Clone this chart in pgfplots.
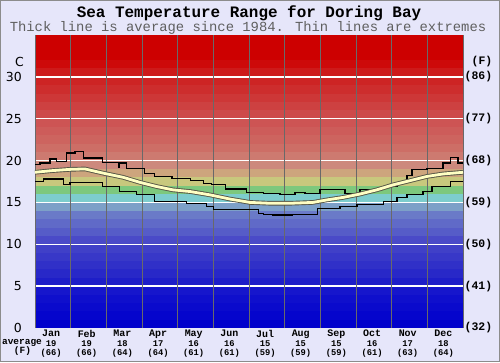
\documentclass[border=0pt]{standalone}
\usepackage{fontspec}
\usepackage{pgfplots}
\pgfplotsset{compat=1.18}
\setmainfont{DejaVu Sans}
\newfontfamily\mono{Liberation Mono}
\newfontfamily\dv{DejaVu Sans}
\definecolor{lav}{RGB}{230,230,250}
\definecolor{frame}{RGB}{140,140,140}
\definecolor{vgrid}{RGB}{105,105,105}
\definecolor{avgin}{RGB}{255,255,195}
\definecolor{avgout}{RGB}{85,85,70}
\definecolor{subgray}{RGB}{95,95,95}
\begin{document}
\begin{tikzpicture}[x=1bp,y=1bp]
\path[use as bounding box,fill=lav,draw=frame,line width=1bp] (0.5,0.5) rectangle (499.5,361.5);
\node[font=\mono\bfseries\fontsize{16}{16}\selectfont] at (249,349) {Sea Temperature Range for Doring Bay};
\node[font=\mono\fontsize{13.9}{14}\selectfont,text=subgray] at (248,334) {Thick line is average since 1984. Thin lines are extremes};
\node[font=\mono\bfseries\fontsize{9.5}{9.5}\selectfont] at (22,19) {average};
\node[font=\mono\bfseries\fontsize{9.5}{9.5}\selectfont] at (22.5,10.5) {(F)};
\begin{axis}[
  at={(35bp,34bp)}, anchor=south west,
  scale only axis, width=428bp, height=293bp,
  xmin=0, xmax=12, ymin=0, ymax=35,
  clip=false,
  axis line style={draw=none},
  major tick length=0pt, minor tick length=0pt,
  ytick={0,5,10,15,20,25,30},
  yticklabel style={anchor=east, inner sep=0pt, xshift=-13bp, font=\dv\fontsize{12.5}{13}\selectfont},
  /pgf/number format/assume math mode=true,
  xtick={0.45,1.45,2.45,3.45,4.45,5.45,6.45,7.45,8.45,9.45,10.45,11.45},
  xticklabel style={align=center, anchor=north, inner sep=0pt, yshift=-2bp, font=\mono\bfseries\fontsize{10}{9.3}\selectfont},
  xticklabels={
    Jan\\{\fontsize{8.8}{9}\selectfont 19}\\{\fontsize{8.8}{9}\selectfont (66)},
    Feb\\{\fontsize{8.8}{9}\selectfont 19}\\{\fontsize{8.8}{9}\selectfont (66)},
    Mar\\{\fontsize{8.8}{9}\selectfont 18}\\{\fontsize{8.8}{9}\selectfont (64)},
    Apr\\{\fontsize{8.8}{9}\selectfont 17}\\{\fontsize{8.8}{9}\selectfont (64)},
    May\\{\fontsize{8.8}{9}\selectfont 16}\\{\fontsize{8.8}{9}\selectfont (61)},
    Jun\\{\fontsize{8.8}{9}\selectfont 16}\\{\fontsize{8.8}{9}\selectfont (61)},
    Jul\\{\fontsize{8.8}{9}\selectfont 15}\\{\fontsize{8.8}{9}\selectfont (59)},
    Aug\\{\fontsize{8.8}{9}\selectfont 15}\\{\fontsize{8.8}{9}\selectfont (59)},
    Sep\\{\fontsize{8.8}{9}\selectfont 15}\\{\fontsize{8.8}{9}\selectfont (59)},
    Oct\\{\fontsize{8.8}{9}\selectfont 16}\\{\fontsize{8.8}{9}\selectfont (61)},
    Nov\\{\fontsize{8.8}{9}\selectfont 17}\\{\fontsize{8.8}{9}\selectfont (63)},
    Dec\\{\fontsize{8.8}{9}\selectfont 18}\\{\fontsize{8.8}{9}\selectfont (64)}},
]
% background temperature bands
\foreach \k/\r/\g/\b in {0/0/0/204,1/5/5/204,2/10/10/204,3/15/15/204,4/22/22/204,5/30/30/200,6/40/40/200,7/48/48/200,8/56/56/200,9/64/64/200,10/74/74/200,11/86/92/200,12/96/106/200,13/106/122/200,14/125/160/200,15/125/205/205,16/125/200/125,17/200/200/125,18/205/165/125,19/205/137/125,20/205/122/112,21/205/110/102,22/205/100/95,23/205/92/90,24/205/84/84,25/205/74/74,26/205/65/65,27/205/55/55,28/205/45/45,29/205/36/36,30/205/26/26,31/205/10/10,32/205/0/0,33/205/0/0,34/205/0/0} {
  \pgfmathtruncatemacro\kk{\k+1}
  \edef\temp{\noexpand\fill[color={rgb,255:red,\r;green,\g;blue,\b}] (axis cs:0,\k) rectangle (axis cs:12,\kk);}
  \temp
}
% grid
\foreach \t in {5,10,15,20,25,30} {
  \edef\temp{\noexpand\draw[white,line width=1.5bp] (axis cs:0,\t) -- (axis cs:12,\t);}
  \temp
}
\foreach \m in {0,1,2,3,4,5,6,7,8,9,10,11,12} {
  \edef\temp{\noexpand\draw[vgrid,line width=1bp] (axis cs:\m,0) -- (axis cs:\m,35);}
  \temp
}
% maximum
\addplot[const plot, black, line width=1.2bp] coordinates {
(0,19.5) (0.14,19.7) (0.42,20.2) (0.61,19.9) (0.89,20.9) (1.12,21.1) (1.35,20.3)
(1.90,19.8) (2.33,19.2) (2.38,19.7) (2.57,19.1) (3.08,18.5) (3.36,18.1) (3.84,17.9)
(4.35,17.6) (4.72,17.3) (4.95,17.1) (5.33,16.6) (5.94,16.2) (6.40,16.1) (6.87,15.9)
(7.29,16.2) (7.57,16.1) (7.99,16.5) (8.69,16.1) (9.11,16.5) (9.76,16.9) (10.15,17.4)
(10.43,18.2) (10.57,18.9) (10.99,19.1) (11.44,19.7) (11.64,20.4) (11.86,19.7) (12,19.7)};
% minimum
\addplot[const plot, black, line width=1.2bp] coordinates {
(0,17.5) (0.23,17.8) (0.79,17.1) (0.98,17.4) (1.90,16.9) (2.38,16.3) (2.85,15.9)
(3.36,15.1) (4.25,14.9) (4.81,14.5) (5.0,14.2) (6.26,13.7) (6.40,13.6) (6.67,13.5)
(7.23,13.6) (7.91,14.3) (8.55,14.5) (9.03,14.8) (9.76,15.1) (10.15,15.6) (10.43,15.9)
(10.88,16.3) (11.13,16.9) (11.64,17.5) (12,17.5)};
% average
\addplot[avgout, line width=4.6bp] coordinates {
(0,18.6) (0.48,18.8) (0.98,18.95) (1.40,19.0) (1.91,18.5) (2.47,18.0) (2.94,17.4)
(3.41,16.9) (3.87,16.5) (4.35,16.3) (4.91,15.9) (5.47,15.4) (6.03,15.0) (6.59,14.9)
(7.15,14.9) (7.79,15.0) (8.18,15.3) (8.64,15.6) (9.11,16.0) (9.58,16.5) (10.04,17.1)
(10.51,17.6) (10.98,18.1) (11.44,18.4) (12,18.6)};
\addplot[avgin, line width=2.8bp] coordinates {
(0,18.6) (0.48,18.8) (0.98,18.95) (1.40,19.0) (1.91,18.5) (2.47,18.0) (2.94,17.4)
(3.41,16.9) (3.87,16.5) (4.35,16.3) (4.91,15.9) (5.47,15.4) (6.03,15.0) (6.59,14.9)
(7.15,14.9) (7.79,15.0) (8.18,15.3) (8.64,15.6) (9.11,16.0) (9.58,16.5) (10.04,17.1)
(10.51,17.6) (10.98,18.1) (11.44,18.4) (12,18.6)};
% labels
\node[font=\dv\fontsize{12.5}{13}\selectfont, anchor=east, inner sep=0pt] at ([xshift=-11bp]axis cs:0,31.8) {C};
\foreach \t/\f in {0/(32),5/(41),10/(50),15/(59),20/(68),25/(77),30/(86)} {
  \edef\temp{\noexpand\node[font=\noexpand\mono\noexpand\bfseries\noexpand\fontsize{11.5}{12}\noexpand\selectfont, anchor=west, inner sep=0pt] at ([xshift=1.5bp]axis cs:12,\t) {\f};}
  \temp
}
\node[font=\mono\bfseries\fontsize{11.5}{12}\selectfont, anchor=west, inner sep=0pt] at ([xshift=8.5bp]axis cs:12,31.8) {(F)};
\end{axis}
\end{tikzpicture}
\end{document}
